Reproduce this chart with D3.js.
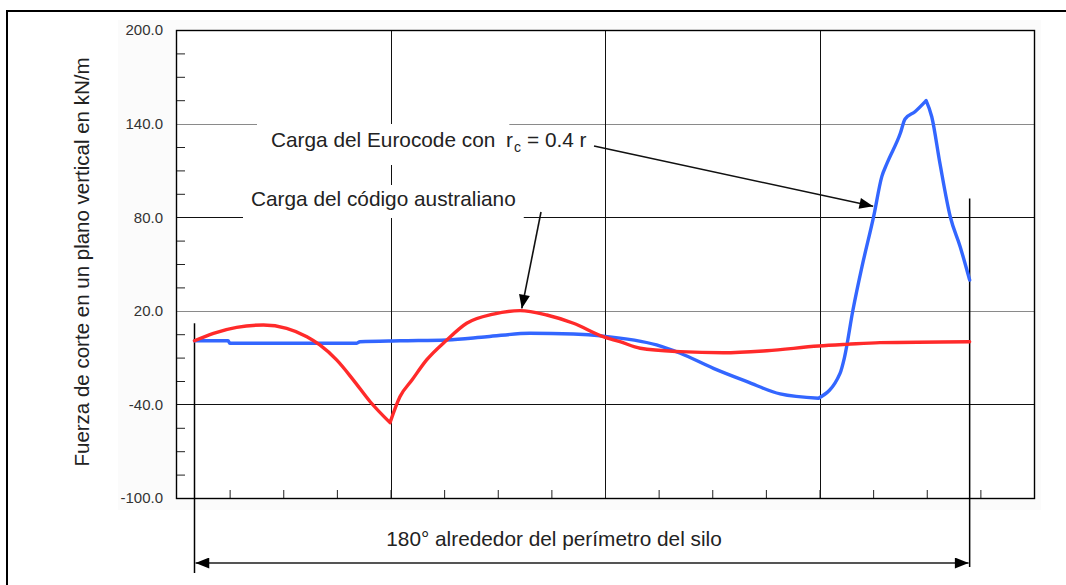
<!DOCTYPE html>
<html>
<head>
<meta charset="utf-8">
<script src="https://cdn.jsdelivr.net/npm/d3@7"></script>
<style>
  html, body { margin: 0; padding: 0; background: #fff; }
  svg { display: block; font-family: "Liberation Sans", Arial, sans-serif; }
</style>
</head>
<body>
<svg id="chart" width="1066" height="585"></svg>
<script>
// values: degrees around the silo (0..180) and kN/m
const ausDeg = [0, 4.4, 9.8, 16.0, 21.4, 26.1, 29.1, 33.0, 36.9, 40.8, 45.4, 47.7, 50.5, 53.9, 58.6, 63.2, 69.4, 75.6, 81.8, 88.0, 94.9, 98.8, 103.5, 112.8, 122.8, 132.9, 144.9, 151.5, 159.2, 180];
const ausVal = [0.8, 5.6, 9.4, 10.9, 8.8, 3.4, -1.9, -11.5, -24.4, -38.3, -51.7, -35.1, -24.4, -11.5, 1.3, 12.0, 17.9, 20.1, 17.3, 12.0, 3.4, 0.2, -4.0, -6.2, -6.9, -5.6, -2.6, -1.5, -0.4, 0.2];
// the australian curve has a sharp corner here
const ausBreaks = [45.4];

const euroDeg = [0, 7.8, 8.2, 37.7, 38.4, 47.7, 58.6, 67.9, 77.9, 88.0, 94.9, 107.3, 112.8, 120.5, 128.3, 136.0, 144.9, 149.9, 150.9, 152.9, 155.0, 157.7, 159.6, 160.8, 163.9, 165.0, 167.3, 169.9, 171.2, 173.1, 175.5, 177.8, 180];
const euroVal = [0.8, 0.8, -0.8, -0.8, 0.2, 0.8, 1.3, 3.4, 5.6, 5.1, 3.8, -1.9, -7.2, -16.9, -25.4, -33.3, -36.1, -20.1, -10.3, 20.5, 48.3, 80.3, 106, 114.5, 133.8, 143, 147.6, 154.7, 144.4, 114.5, 80.3, 61.1, 39.7];
const euroBreaks = [144.9, 169.9];

const yMajor = [-100, -40, 20, 80, 140, 200];
const yGridBlack = [80, -40];
const yGridGray = [140, 20];
const xMajor = [4, 8, 12];

const yTitle = "Fuerza de corte en un plano vertical en kN/m";
const euroLabel = "Carga del Eurocode con";
const ausLabel = "Carga del código australiano";
const spanLabel = "180° alrededor del perímetro del silo";

// arrow tips, in data units (deg, kN/m)
const euroTip = [157.6, 87];
const ausTip = [76, 21.5];

const RED = "#ff2a2a";
const BLUE = "#3366ff";

const svg = d3.select("#chart");
const width = 1066, height = 585;
const margin = { top: 30, right: 32, bottom: 87, left: 176 };

const x = d3.scaleLinear().domain([0, 16]).range([margin.left, width - margin.right]);
const y = d3.scaleLinear().domain([-100, 200]).range([height - margin.bottom, margin.top]);
// 180 deg covers the span between the two dimension lines
const xDeg = d3.scaleLinear().domain([0, 180]).range([x(0.345), x(14.8)]);

const defs = svg.append("defs");
defs.append("marker")
  .attr("id", "head")
  .attr("viewBox", "0 0 10 8")
  .attr("refX", 10).attr("refY", 4)
  .attr("markerWidth", 15).attr("markerHeight", 11)
  .attr("markerUnits", "userSpaceOnUse")
  .attr("orient", "auto-start-reverse")
  .append("path").attr("d", "M0,0L10,4L0,8z").attr("fill", "#000");

// outer frame + light chart area
svg.append("rect").attr("x", 118).attr("y", 20).attr("width", 923).attr("height", 490).attr("fill", "#fbfbfb");
svg.append("path").attr("d", "M7,585V11H1066").attr("fill", "none").attr("stroke", "#000").attr("stroke-width", 2);
svg.append("rect")
  .attr("x", x(0)).attr("y", y(200))
  .attr("width", x(16) - x(0)).attr("height", y(-100) - y(200))
  .attr("fill", "#fff");

// grid
svg.append("g").selectAll("line").data(yGridGray).join("line")
  .attr("x1", x(0)).attr("x2", x(16))
  .attr("y1", d => Math.round(y(d)) + 0.5).attr("y2", d => Math.round(y(d)) + 0.5)
  .attr("stroke", "#8a8a8a");
svg.append("g").selectAll("line").data(yGridBlack).join("line")
  .attr("x1", x(0)).attr("x2", x(16))
  .attr("y1", d => Math.round(y(d)) + 0.5).attr("y2", d => Math.round(y(d)) + 0.5)
  .attr("stroke", "#111");
svg.append("g").selectAll("line").data(xMajor).join("line")
  .attr("x1", d => Math.round(x(d)) + 0.5).attr("x2", d => Math.round(x(d)) + 0.5)
  .attr("y1", y(200)).attr("y2", y(-100))
  .attr("stroke", "#111");

// axes
const yAxis = svg.append("g")
  .attr("transform", `translate(${x(0)},0)`)
  .call(d3.axisLeft(y).tickValues(yMajor).tickFormat(d => d.toFixed(1)).tickSize(0).tickPadding(13));
yAxis.select(".domain").remove();
yAxis.selectAll("text").attr("font-size", 15).attr("fill", "#333").attr("font-family", null);

const yMinor = d3.range(-100, 200, 15).filter(v => !yMajor.includes(v));
const yMinorAxis = svg.append("g")
  .attr("transform", `translate(${x(0)},0)`)
  .call(d3.axisRight(y).tickValues(yMinor).tickFormat("").tickSize(9));
yMinorAxis.select(".domain").remove();
yMinorAxis.selectAll("line").attr("stroke", "#222");

const xAxis = svg.append("g")
  .attr("transform", `translate(0,${y(-100)})`)
  .call(d3.axisTop(x).tickValues(d3.range(1, 16)).tickFormat("").tickSize(8));
xAxis.select(".domain").remove();
xAxis.selectAll("line").attr("stroke", "#222");

// plot frame
svg.append("rect")
  .attr("x", x(0) + 0.5).attr("y", y(200) + 0.5)
  .attr("width", x(16) - x(0)).attr("height", y(-100) - y(200))
  .attr("fill", "none").attr("stroke", "#000").attr("stroke-width", 1.4);

svg.append("text")
  .attr("transform", `translate(89,${(y(200) + y(-100)) / 2 - 2}) rotate(-90)`)
  .attr("text-anchor", "middle")
  .attr("font-size", 20.5)
  .attr("fill", "#222")
  .text(yTitle);

// dimension lines under the chart
svg.append("line")
  .attr("x1", xDeg(0)).attr("x2", xDeg(0))
  .attr("y1", y(12)).attr("y2", 573)
  .attr("stroke", "#000").attr("stroke-width", 1.5);
svg.append("line")
  .attr("x1", xDeg(180)).attr("x2", xDeg(180))
  .attr("y1", y(92)).attr("y2", 567)
  .attr("stroke", "#000").attr("stroke-width", 1.5);
svg.append("line")
  .attr("x1", xDeg(0) + 1).attr("x2", xDeg(180) - 1)
  .attr("y1", 563).attr("y2", 563)
  .attr("stroke", "#555").attr("stroke-width", 2.2)
  .attr("marker-start", "url(#head)")
  .attr("marker-end", "url(#head)");
svg.append("text")
  .attr("x", 554).attr("y", 546)
  .attr("text-anchor", "middle")
  .attr("font-size", 20.8)
  .attr("fill", "#222")
  .text(spanLabel);

// curves: smooth between the sharp corners
const line = d3.line().x(d => xDeg(d[0])).y(d => y(d[1])).curve(d3.curveMonotoneX);
const pieces = (degs, vals, breaks) => {
  const pts = degs.map((d, i) => [d, vals[i]]);
  const cuts = [0, ...breaks.map(b => degs.indexOf(b)), pts.length - 1];
  return d3.pairs(cuts).map(([a, b]) => line(pts.slice(a, b + 1))).join("");
};
svg.append("path")
  .attr("d", pieces(euroDeg, euroVal, euroBreaks))
  .attr("fill", "none").attr("stroke", BLUE).attr("stroke-width", 3.4)
  .attr("stroke-linejoin", "round").attr("stroke-linecap", "round");
svg.append("path")
  .attr("d", pieces(ausDeg, ausVal, ausBreaks))
  .attr("fill", "none").attr("stroke", RED).attr("stroke-width", 3.4)
  .attr("stroke-linejoin", "round").attr("stroke-linecap", "round");

// annotations with white boxes over the grid
const addLabel = (txt, lx, ly, pad) => {
  const g = svg.append("g");
  const box = g.append("rect").attr("fill", "#fff");
  const t = g.append("text")
    .attr("x", lx).attr("y", ly)
    .attr("font-size", 20.8).attr("fill", "#222")
    .text(txt);
  const bb = t.node().getBBox();
  box.attr("x", bb.x - pad[0]).attr("y", bb.y - pad[1])
    .attr("width", bb.width + 2 * pad[0]).attr("height", bb.height + pad[1] + pad[2]);
  return g;
};

const euroG = addLabel(euroLabel, 271, 147, [14, 4, 14]);
euroG.append("text").attr("x", 506).attr("y", 147).attr("font-size", 20.8).attr("fill", "#222").text("r");
euroG.append("text").attr("x", 514).attr("y", 152).attr("font-size", 14).attr("fill", "#222").text("c");
euroG.append("text").attr("x", 527).attr("y", 147).attr("font-size", 20.8).attr("fill", "#222").text("= 0.4 r");

addLabel(ausLabel, 251, 206, [8, 2, 8]);

svg.append("line")
  .attr("x1", 594).attr("y1", 146)
  .attr("x2", xDeg(euroTip[0])).attr("y2", y(euroTip[1]))
  .attr("stroke", "#111").attr("stroke-width", 1.6)
  .attr("marker-end", "url(#head)");
svg.append("line")
  .attr("x1", 541).attr("y1", 212)
  .attr("x2", xDeg(ausTip[0])).attr("y2", y(ausTip[1]))
  .attr("stroke", "#111").attr("stroke-width", 1.6)
  .attr("marker-end", "url(#head)");
</script>
</body>
</html>
